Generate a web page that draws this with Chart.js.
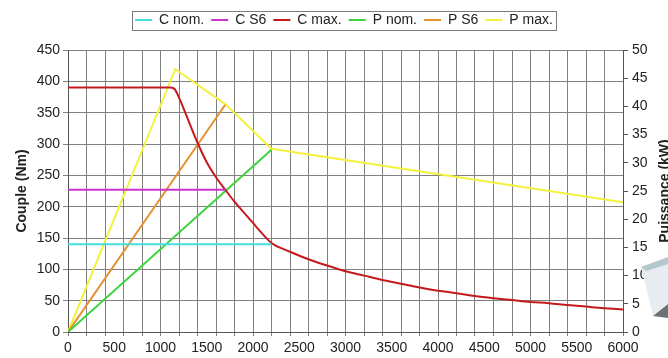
<!DOCTYPE html>
<html>
<head>
<meta charset="utf-8">
<script src="https://cdn.jsdelivr.net/npm/chart.js@4"></script>
<style>
  html, body { margin: 0; padding: 0; background: #fff; }
  #wrap { width: 668px; height: 358px; position: relative; }
</style>
</head>
<body>
<div id="wrap"><canvas id="chart"></canvas></div>
<script>
// === Données ===
const rpmCNom = [0, 2200];
const cNom = [140, 140];
const rpmCS6 = [0, 1700];
const cS6 = [227, 227];
const rpmCMax = [0, 1100, 1150, 1200, 1300, 1400, 1500, 1600, 1700, 1800, 1900, 2000, 2100, 2200,
  2400, 2600, 2800, 3000, 3200, 3400, 3600, 3800, 4000, 4200, 4400, 4600, 4800, 5000, 5200, 5400, 5600, 5800, 6000];
const cMax = [390, 390, 388, 374, 338, 302, 271, 247, 227, 208, 191, 174, 157, 142,
  128, 116, 106, 97, 90, 83, 77, 71, 66, 62, 57.5, 54, 51, 48, 46, 43, 40.5, 38, 36];
const rpmPNom = [0, 2200];
const pNom = [0, 32.3];
const rpmPS6 = [0, 1700];
const pS6 = [0, 40.3];
const rpmPMax = [0, 1160, 1700, 2200, 6000];
const pMax = [0, 46.6, 40.4, 32.5, 23];

const xTicks = [0, 500, 1000, 1500, 2000, 2500, 3000, 3500, 4000, 4500, 5000, 5500, 6000];

const gridColor = '#808080';
const txtColor = '#222';
const fnt = 'Liberation Sans, Arial, sans-serif';
const legendShift = 5;

function pts(xs, ys){
  return xs.map((x,i)=>({x:x, y:ys[i]}));
}

function ds(label, xs, ys, color, axis, smooth){
  const d = {
    label: label,
    data: pts(xs, ys),
    borderColor: color,
    backgroundColor: color,
    borderWidth: 2,
    pointRadius: 0,
    yAxisID: axis,
    tension: 0
  };
  if(smooth) d.cubicInterpolationMode = 'monotone';
  return d;
}

// cadre autour de la légende + titre axe droit + petit objet gris
const extras = {
  id: 'extras',
  afterInit(chart){
    const lg = chart.legend;
    if(lg){
      const f = lg.fit;
      lg.fit = function(){ f.call(this); this.height += 13; };
      const d = lg.draw;
      lg.draw = function(){
        this.ctx.save();
        this.ctx.translate(legendShift, 0);
        d.call(this);
        this.ctx.restore();
      };
    }
  },
  afterDraw(chart){
    const ctx = chart.ctx;
    const lg = chart.legend;
    if(lg && lg.legendHitBoxes && lg.legendHitBoxes.length){
      const hb = lg.legendHitBoxes;
      let l = Infinity, r = -Infinity, t = Infinity, b = -Infinity;
      hb.forEach(h=>{
        l = Math.min(l, h.left); r = Math.max(r, h.left + h.width);
        t = Math.min(t, h.top); b = Math.max(b, h.top + h.height);
      });
      l += legendShift; r += legendShift;
      ctx.save();
      ctx.strokeStyle = '#7a7a7a';
      ctx.lineWidth = 1;
      ctx.strokeRect(Math.round(l - 3) + 0.5, Math.round(t - 2) + 0.5, Math.round(r - l + 6), Math.round(b - t + 5));
      ctx.restore();
    }

    // forme grise en bas à droite
    ctx.save();
    ctx.fillStyle = '#e6ecef';
    ctx.beginPath();
    ctx.moveTo(641, 267); ctx.lineTo(668, 257); ctx.lineTo(668, 303); ctx.lineTo(653, 316);
    ctx.closePath(); ctx.fill();
    ctx.fillStyle = '#b3c7cf';
    ctx.beginPath();
    ctx.moveTo(641, 267); ctx.lineTo(668, 257); ctx.lineTo(668, 264); ctx.lineTo(646, 271);
    ctx.closePath(); ctx.fill();
    ctx.fillStyle = '#6d7275';
    ctx.beginPath();
    ctx.moveTo(653, 316); ctx.lineTo(668, 304); ctx.lineTo(668, 318);
    ctx.closePath(); ctx.fill();
    ctx.restore();

    // titre de l'axe de droite (lu de bas en haut)
    const ca = chart.chartArea;
    ctx.save();
    ctx.translate(665, (ca.top + ca.bottom) / 2);
    ctx.rotate(-Math.PI / 2);
    ctx.font = 'bold 14px ' + fnt;
    ctx.fillStyle = txtColor;
    ctx.textAlign = 'center';
    ctx.textBaseline = 'middle';
    ctx.fillText('Puissance (kW)', 0, 0);
    ctx.restore();
  }
};

const bgPlugin = {
  id: 'bg',
  beforeDraw(chart){
    const ctx = chart.ctx;
    ctx.save();
    ctx.fillStyle = '#fff';
    ctx.fillRect(0, 0, chart.width, chart.height);
    ctx.restore();
  }
};

new Chart(document.getElementById('chart'), {
  type: 'line',
  data: {
    datasets: [
      ds('C nom.', rpmCNom, cNom, '#45dede', 'y'),
      ds('C S6', rpmCS6, cS6, '#cc33cc', 'y'),
      ds('C max.', rpmCMax, cMax, '#c41a1e', 'y', true),
      ds('P nom.', rpmPNom, pNom, '#3cd43c', 'y2'),
      ds('P S6', rpmPS6, pS6, '#e3922e', 'y2'),
      ds('P max.', rpmPMax, pMax, '#f2f23e', 'y2')
    ]
  },
  options: {
    responsive: true,
    maintainAspectRatio: false,
    animation: false,
    layout: { padding: { top: 6, left: 10, right: 0, bottom: 0 } },
    plugins: {
      legend: {
        position: 'top',
        labels: {
          usePointStyle: true,
          pointStyle: 'line',
          pointStyleWidth: 17,
          padding: 7,
          color: txtColor,
          font: { family: fnt, size: 14 }
        }
      },
      tooltip: { enabled: false }
    },
    scales: {
      x: {
        type: 'linear',
        min: 0,
        max: 6000,
        afterBuildTicks(scale){
          const t = [];
          for(let v = 0; v <= 6000; v += 100){
            if(v % 200 === 0 || xTicks.includes(v)) t.push({value: v});
          }
          scale.ticks = t;
        },
        afterFit(scale){ scale.height = 26; },
        ticks: {
          autoSkip: false,
          maxRotation: 0,
          padding: 4,
          color: txtColor,
          font: { family: fnt, size: 14 },
          callback: v => xTicks.includes(v) ? String(v) : ''
        },
        grid: {
          color: c => (c.tick && c.tick.value % 200 === 0) ? gridColor : 'rgba(0,0,0,0)',
          tickColor: c => (c.tick && c.tick.value % 200 === 0) ? gridColor : 'rgba(0,0,0,0)',
          tickLength: 4
        },
        border: { color: '#555' }
      },
      y: {
        position: 'left',
        min: 0,
        max: 450,
        afterFit(scale){ scale.width = 58; },
        ticks: {
          stepSize: 50,
          padding: 3,
          color: txtColor,
          font: { family: fnt, size: 14 }
        },
        grid: { color: gridColor, tickColor: gridColor, tickLength: 5 },
        border: { color: '#555' },
        title: {
          display: true,
          text: 'Couple (Nm)',
          color: txtColor,
          padding: { top: 4, bottom: 0 },
          font: { family: fnt, size: 14, weight: 'bold' }
        }
      },
      y2: {
        position: 'right',
        min: 0,
        max: 50,
        afterFit(scale){ scale.width = 45; },
        ticks: {
          stepSize: 5,
          padding: 4,
          color: txtColor,
          font: { family: fnt, size: 14 }
        },
        grid: { drawOnChartArea: false, color: '#555', tickColor: '#555', tickLength: 5 },
        border: { color: '#555' }
      }
    }
  },
  plugins: [bgPlugin, extras]
});
</script>
</body>
</html>
